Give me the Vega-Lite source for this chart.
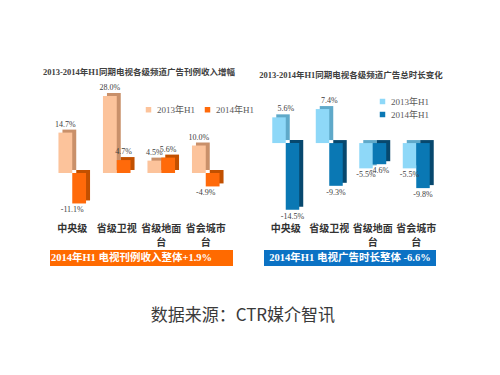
{
  "$schema": "https://vega.github.io/schema/vega-lite/v6.json",
  "background": "white",
  "padding": {"left": 42, "top": 67, "right": 5, "bottom": 5},
  "config": {
    "view": {"stroke": null},
    "font": "Liberation Serif, Noto Sans CJK SC",
    "text": {"font": "Liberation Serif, Noto Sans CJK SC", "fontSize": 8, "color": "#404040"},
    "locale": {"number": {"decimal": ".", "thousands": ",", "grouping": [3], "currency": ["$", ""], "minus": "-"}}
  },
  "spacing": 5,
  "title": {
    "text": "数据来源：CTR媒介智讯",
    "orient": "bottom",
    "anchor": "middle",
    "offset": 42,
    "font": "Noto Sans CJK SC",
    "fontSize": 17,
    "fontWeight": "normal",
    "color": "#3a3a3a"
  },
  "resolve": {"scale": {"color": "independent"}, "legend": {"color": "independent"}},
  "hconcat": [
    {
      "bounds": "flush",
      "spacing": 35,
      "vconcat": [
        {
          "width": 178,
          "height": 128,
          "title": {
            "text": "2013-2014年H1同期电视各级频道广告刊例收入增幅",
            "font": "Liberation Serif, Noto Sans CJK SC",
            "fontSize": 8.5,
            "fontWeight": "bold",
            "color": "#404040",
            "anchor": "middle",
            "offset": 8
          },
          "data": {
            "values": [
              {"cat": "中央级", "year": "2013年H1", "v": 0.147},
              {"cat": "中央级", "year": "2014年H1", "v": -0.111},
              {"cat": "省级卫视", "year": "2013年H1", "v": 0.280},
              {"cat": "省级卫视", "year": "2014年H1", "v": 0.047},
              {"cat": "省级地面台", "year": "2013年H1", "v": 0.045},
              {"cat": "省级地面台", "year": "2014年H1", "v": 0.056},
              {"cat": "省会城市台", "year": "2013年H1", "v": 0.100},
              {"cat": "省会城市台", "year": "2014年H1", "v": -0.049}
            ]
          },
          "resolve": {"scale": {"xOffset": "independent"}},
          "encoding": {
            "x": {
              "field": "cat", "type": "nominal", "sort": null,
              "scale": {"paddingInner": 0.38, "paddingOuter": 0.19},
              "axis": {
                "title": null, "domain": false, "ticks": false, "labelAngle": 0,
                "labelPadding": 8, "labelFontSize": 10, "labelFontWeight": "bold",
                "labelColor": "#333333", "labelFont": "Liberation Serif, Noto Sans CJK SC",
                "labelLineHeight": 14,
                "labelExpr": "datum.label == '省级地面台' ? ['省级地面', '台'] : datum.label == '省会城市台' ? ['省会城市', '台'] : datum.label"
              }
            },
            "y": {"field": "v", "type": "quantitative", "scale": {"domain": [-0.153, 0.313]}, "axis": null}
          },
          "layer": [
            {
              "mark": {"type": "bar", "yOffset": -3},
              "encoding": {
                "xOffset": {"field": "year", "type": "nominal", "scale": {"range": [4, 31.59]}},
                "color": {"condition": {"test": "datum.year == '2013年H1'", "value": "#C9906A"}, "value": "#C25000"}
              }
            },
            {
              "mark": {"type": "bar"},
              "encoding": {
                "xOffset": {"field": "year", "type": "nominal"},
                "color": {
                  "field": "year", "type": "nominal",
                  "scale": {"range": ["#FCC39B", "#FF6A0A"]},
                  "legend": {
                    "title": null, "orient": "none", "direction": "horizontal",
                    "legendX": 94, "legendY": 18, "symbolType": "square", "symbolSize": 30,
                    "labelFont": "Liberation Serif, Noto Sans CJK SC", "labelFontSize": 9,
                    "labelColor": "#595959", "columnPadding": 8, "symbolStrokeWidth": 0
                  }
                }
              }
            },
            {
              "transform": [{"filter": "datum.v >= 0"}],
              "mark": {"type": "text", "baseline": "bottom", "dy": -4},
              "encoding": {
                "xOffset": {"field": "year", "type": "nominal"},
                "text": {"field": "v", "type": "quantitative", "format": ".1%"}
              }
            },
            {
              "transform": [{"filter": "datum.v < 0"}],
              "mark": {"type": "text", "baseline": "top", "dy": 3},
              "encoding": {
                "xOffset": {"field": "year", "type": "nominal"},
                "text": {"field": "v", "type": "quantitative", "format": ".1%"}
              }
            }
          ]
        },
        {
          "width": 183,
          "height": 16,
          "view": {"fill": "#FF6A00", "stroke": null},
          "data": {"values": [{"t": "2014年H1 电视刊例收入整体+1.9%"}]},
          "mark": {
            "type": "text", "color": "white", "fontWeight": "bold", "fontSize": 10.5,
            "font": "Liberation Serif, Noto Sans CJK SC", "dx": -10, "baseline": "middle"
          },
          "encoding": {"text": {"field": "t", "type": "nominal"}}
        }
      ]
    },
    {
      "bounds": "flush",
      "spacing": 35,
      "vconcat": [
        {
          "width": 174,
          "height": 128,
          "title": {
            "text": "2013-2014年H1同期电视各级频道广告总时长变化",
            "font": "Liberation Serif, Noto Sans CJK SC",
            "fontSize": 8.5,
            "fontWeight": "bold",
            "color": "#404040",
            "anchor": "middle",
            "offset": 8
          },
          "data": {
            "values": [
              {"cat": "中央级", "year": "2013年H1", "v": 0.056},
              {"cat": "中央级", "year": "2014年H1", "v": -0.145},
              {"cat": "省级卫视", "year": "2013年H1", "v": 0.074},
              {"cat": "省级卫视", "year": "2014年H1", "v": -0.093},
              {"cat": "省级地面台", "year": "2013年H1", "v": -0.055},
              {"cat": "省级地面台", "year": "2014年H1", "v": -0.046},
              {"cat": "省会城市台", "year": "2013年H1", "v": -0.055},
              {"cat": "省会城市台", "year": "2014年H1", "v": -0.098}
            ]
          },
          "resolve": {"scale": {"xOffset": "independent"}},
          "encoding": {
            "x": {
              "field": "cat", "type": "nominal", "sort": null,
              "scale": {"paddingInner": 0.38, "paddingOuter": 0.19},
              "axis": {
                "title": null, "domain": false, "ticks": false, "labelAngle": 0,
                "labelPadding": 8, "labelFontSize": 10, "labelFontWeight": "bold",
                "labelColor": "#333333", "labelFont": "Liberation Serif, Noto Sans CJK SC",
                "labelLineHeight": 14,
                "labelExpr": "datum.label == '省级地面台' ? ['省级地面', '台'] : datum.label == '省会城市台' ? ['省会城市', '台'] : datum.label"
              }
            },
            "y": {"field": "v", "type": "quantitative", "scale": {"domain": [-0.1565, 0.122]}, "axis": null}
          },
          "layer": [
            {
              "mark": {"type": "bar", "yOffset": -3},
              "encoding": {
                "xOffset": {"field": "year", "type": "nominal", "scale": {"range": [4, 30.97]}},
                "color": {"condition": {"test": "datum.year == '2013年H1'", "value": "#5FA9C9"}, "value": "#07486E"}
              }
            },
            {
              "mark": {"type": "bar"},
              "encoding": {
                "xOffset": {"field": "year", "type": "nominal"},
                "color": {
                  "field": "year", "type": "nominal",
                  "scale": {"range": ["#8ED8F8", "#0A78B4"]},
                  "legend": {
                    "title": null, "orient": "none", "direction": "vertical",
                    "legendX": 114, "legendY": 10, "symbolType": "square", "symbolSize": 30,
                    "labelFont": "Liberation Serif, Noto Sans CJK SC", "labelFontSize": 9,
                    "labelColor": "#595959", "rowPadding": 3, "symbolStrokeWidth": 0
                  }
                }
              }
            },
            {
              "transform": [{"filter": "datum.v >= 0"}],
              "mark": {"type": "text", "baseline": "bottom", "dy": -4},
              "encoding": {
                "xOffset": {"field": "year", "type": "nominal"},
                "text": {"field": "v", "type": "quantitative", "format": ".1%"}
              }
            },
            {
              "transform": [{"filter": "datum.v < 0"}],
              "mark": {"type": "text", "baseline": "top", "dy": 3},
              "encoding": {
                "xOffset": {"field": "year", "type": "nominal"},
                "text": {"field": "v", "type": "quantitative", "format": ".1%"}
              }
            }
          ]
        },
        {
          "width": 172,
          "height": 16,
          "view": {"fill": "#0B72C4", "stroke": null},
          "data": {"values": [{"t": "2014年H1 电视广告时长整体 -6.6%"}]},
          "mark": {
            "type": "text", "color": "white", "fontWeight": "bold", "fontSize": 10.5,
            "font": "Liberation Serif, Noto Sans CJK SC", "baseline": "middle"
          },
          "encoding": {"text": {"field": "t", "type": "nominal"}}
        }
      ]
    }
  ]
}
